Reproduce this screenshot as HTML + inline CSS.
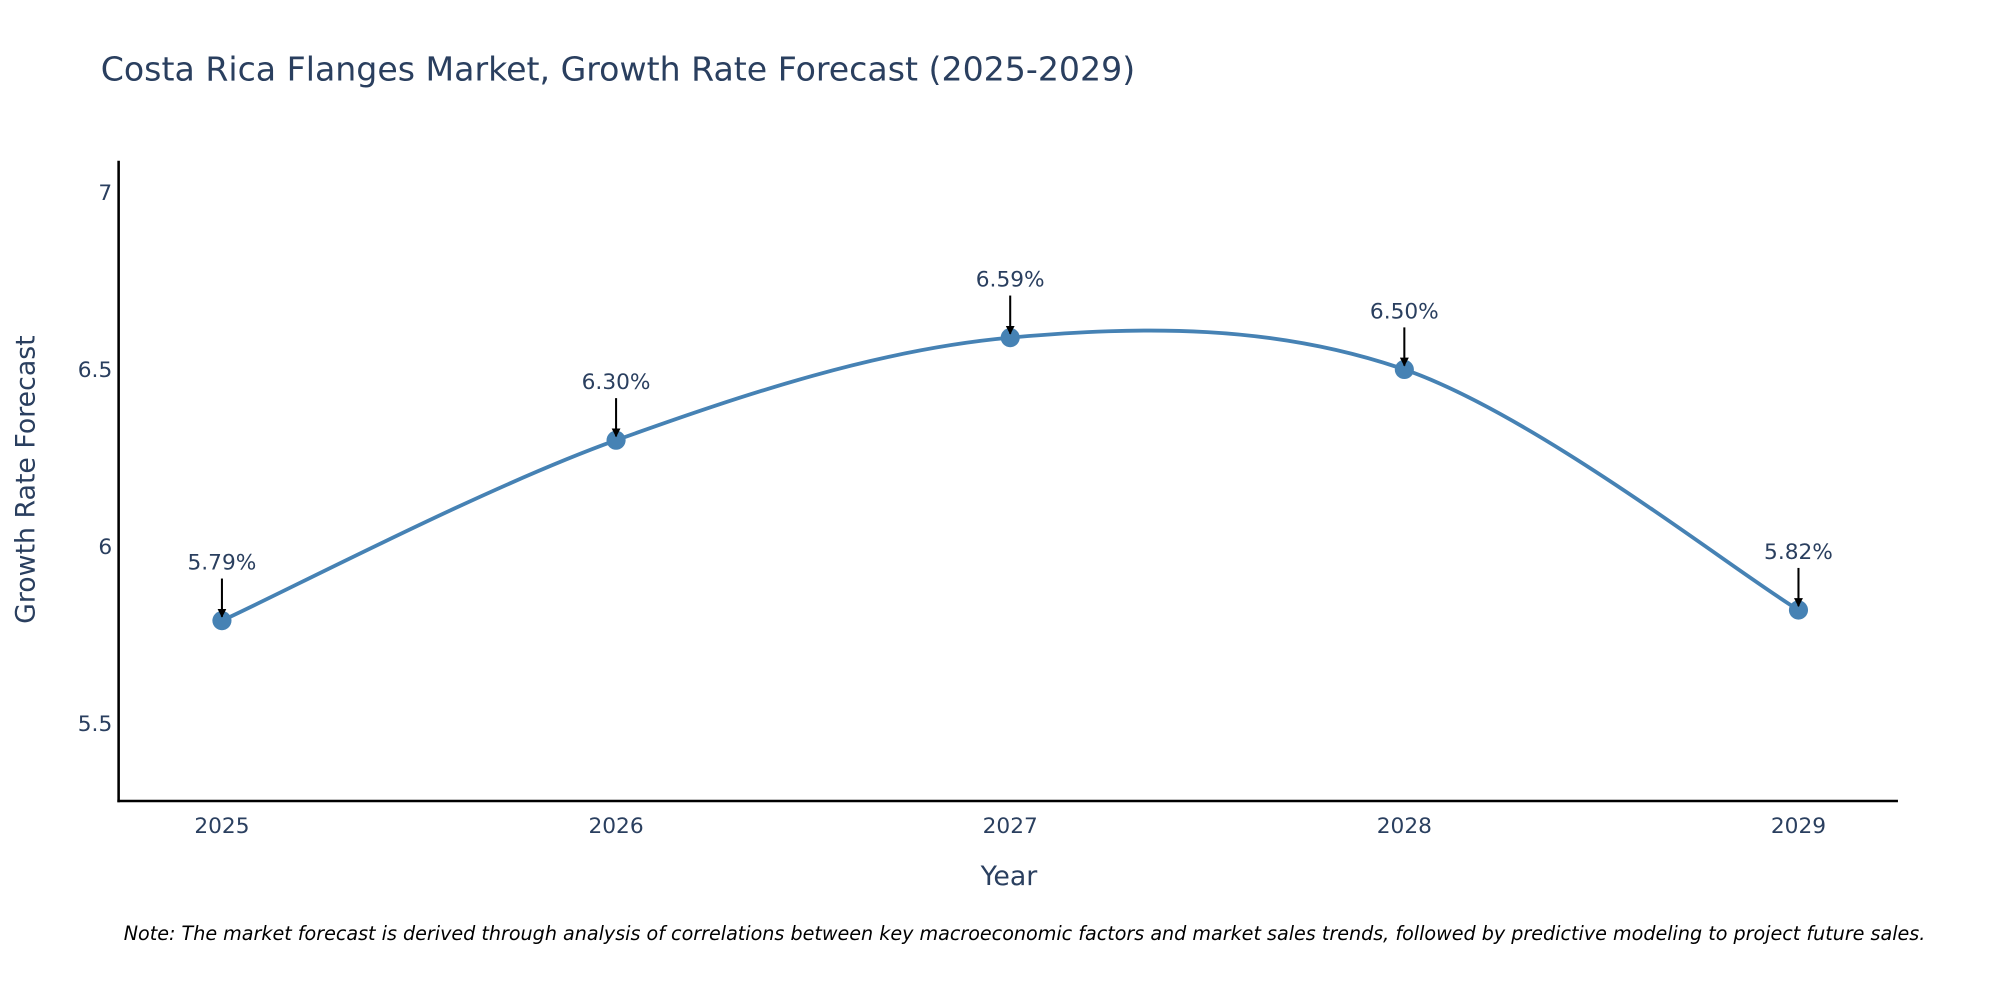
<!DOCTYPE html>
<html><head><meta charset="utf-8"><style>
html,body{margin:0;padding:0;background:#fff;}
svg{display:block;font-family:"DejaVu Sans","Liberation Sans",sans-serif;}
</style></head><body>
<svg id="chart" width="2000" height="1000" viewBox="0 0 1568 784" xmlns="http://www.w3.org/2000/svg">
<defs><marker id="ah" viewBox="0 0 10 10" refX="9" refY="5" markerWidth="7" markerHeight="7" markerUnits="userSpaceOnUse" orient="auto"><path d="M0,0 L10,5 L0,10 z" fill="#000"/></marker></defs>
<text x="79" y="63" font-size="26" fill="#2a3f5f">Costa Rica Flanges Market, Growth Rate Forecast (2025-2029)</text>
<g id="yticks"></g><g id="xticks"></g>
<line x1="93" y1="126" x2="93" y2="629" stroke="#000" stroke-width="2"/>
<line x1="92" y1="628" x2="1488" y2="628" stroke="#000" stroke-width="2"/>
<path id="line" fill="none" stroke="#4682b4" stroke-width="3"/>
<g id="pts"></g>
<text x="791" y="694" font-size="21" fill="#2a3f5f" text-anchor="middle">Year</text>
<text transform="translate(27,376) rotate(-90)" font-size="21" fill="#2a3f5f" text-anchor="middle">Growth Rate Forecast</text>
<text x="97" y="737" font-size="15" font-style="italic" fill="#000">Note: The market forecast is derived through analysis of correlations between key macroeconomic factors and market sales trends, followed by predictive modeling to project future sales.</text>
</svg>
<script>
const years = [2025, 2026, 2027, 2028, 2029];
const values = [5.79, 6.30, 6.59, 6.50, 5.82];
const labels = ["5.79%", "6.30%", "6.59%", "6.50%", "5.82%"];
const yTickVals = [5.5, 6, 6.5, 7];
const yTickLabels = ["5.5", "6", "6.5", "7"];
const NS = "http://www.w3.org/2000/svg";
const xs = v => 174 + (v - 2025) * 309;
const ys = v => 567 - (v - 5.5) * 277.33;
function mk(tag, attrs, parent, txt){const e=document.createElementNS(NS,tag);for(const k in attrs)e.setAttribute(k,attrs[k]);if(txt!==undefined)e.textContent=txt;parent.appendChild(e);return e;}
const yt=document.getElementById('yticks');
yTickVals.forEach((v,i)=>{const t=mk('text',{x:88,y:ys(v)+6,'font-size':17,fill:'#2a3f5f','text-anchor':'end'},yt,yTickLabels[i]);

});
const xt=document.getElementById('xticks');
years.forEach(v=>{const t=mk('text',{x:xs(v),y:653,'font-size':17,fill:'#2a3f5f','text-anchor':'middle'},xt,String(v));

});
const P=years.map((y,i)=>[xs(y),ys(values[i])]);
let d='M'+P[0][0]+','+P[0][1];
for(let i=0;i<P.length-1;i++){const p0=P[Math.max(i-1,0)],p1=P[i],p2=P[i+1],p3=P[Math.min(i+2,P.length-1)];const k=1/6;
d+=' C'+(p1[0]+(p2[0]-p0[0])*k)+','+(p1[1]+(p2[1]-p0[1])*k)+' '+(p2[0]-(p3[0]-p1[0])*k)+','+(p2[1]-(p3[1]-p1[1])*k)+' '+p2[0]+','+p2[1];}
document.getElementById('line').setAttribute('d',d);
const g=document.getElementById('pts');
P.forEach((p,i)=>{const c=mk('circle',{cx:p[0],cy:p[1],r:7.5,fill:'#4682b4'},g);


const a=mk('line',{x1:p[0],y1:p[1]-33,x2:p[0],y2:p[1]-3,stroke:'#000','stroke-width':1.6,'marker-end':'url(#ah)'},g);


const t=mk('text',{x:p[0],y:p[1]-40,'font-size':17,fill:'#2a3f5f','text-anchor':'middle'},g,labels[i]);

});
</script>
</body></html>
